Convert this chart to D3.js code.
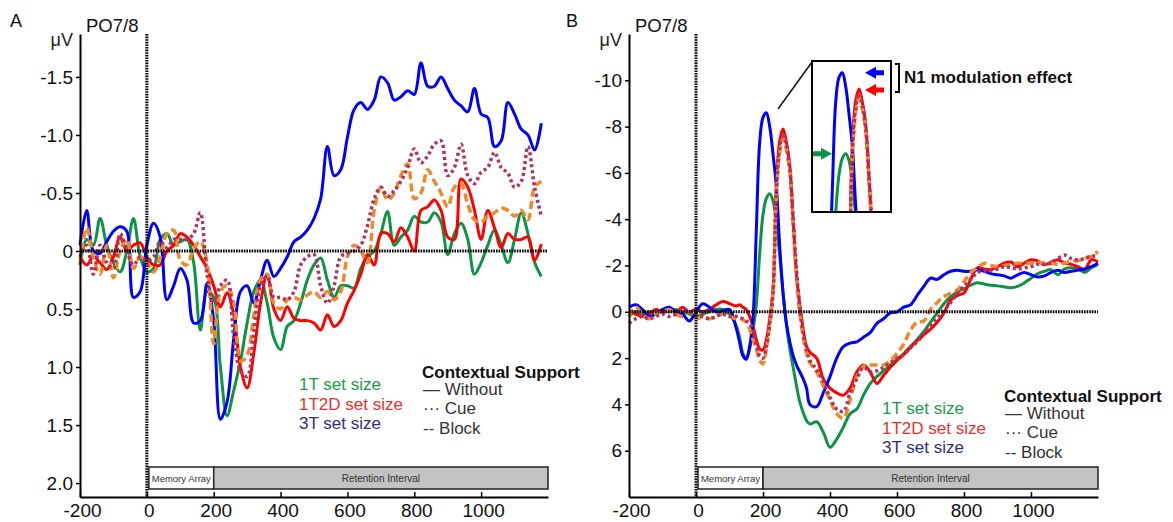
<!DOCTYPE html>
<html>
<head>
<meta charset="utf-8">
<script src="https://cdn.jsdelivr.net/npm/d3@7"></script>
<style>
  body { margin: 0; background: #fff; }
  text { font-family: "Liberation Sans", Arial, sans-serif; }
</style>
</head>
<body>
<svg id="chart" width="1173" height="522"></svg>
<script>
// sampling grid (ms)
var timesA = d3.range(-200, 1200, 20);
var timesB = [-200,-180,-160,-140,-120,-100,-80,-60,-40,-20,0,20,40,60,80,100,
  120,130,140,150,160,170,180,190,200,210,220,230,240,250,260,270,280,290,300,310,320,330,340,
  360,380,400,420,440,460,480,500,520,540,560,580,600,620,640,660,680,700,720,740,
  760,780,800,820,840,860,880,900,920,940,960,980,1000,1020,1040,1060,1080,1100,1120,1140,1160,1180,1200];

// panel A (uV), one value per 20 ms
var greenA = [0.12,-0.1,-0.05,-0.28,-0.05,0.1,0.18,0.0,-0.28,0.05,
  0.18,0.15,-0.1,-0.15,-0.05,-0.08,-0.1,0.1,0.68,0.35,
  0.4,1.0,1.42,1.2,0.95,0.62,0.35,0.25,0.45,0.75,
  0.85,0.65,0.6,0.45,0.25,0.12,0.06,0.25,0.4,0.3,
  0.3,0.32,0.15,0.05,0.0,-0.15,-0.34,-0.05,-0.12,-0.18,
  -0.3,-0.25,-0.25,-0.33,-0.25,0.03,-0.15,-0.24,-0.1,0.2,
  0.1,-0.05,-0.18,-0.05,0.1,-0.1,-0.33,-0.15,0.1,0.22];
var redA = [0.05,0.12,0.05,0.1,0.16,0.05,-0.12,0.0,-0.05,-0.07,
  0.05,0.12,0.12,0.0,-0.05,-0.15,-0.12,-0.05,0.05,0.15,
  0.3,0.48,0.36,0.55,1.0,1.18,0.88,0.45,0.2,0.5,
  0.6,0.48,0.58,0.6,0.6,0.62,0.68,0.55,0.65,0.6,
  0.45,0.34,0.2,0.03,0.12,-0.15,-0.15,-0.08,-0.2,-0.12,
  0.0,-0.35,-0.38,-0.44,-0.35,-0.12,-0.1,-0.62,-0.55,-0.35,
  -0.1,-0.35,-0.2,-0.03,-0.15,-0.1,-0.1,-0.12,0.08,-0.06];
var blueA = [-0.05,-0.35,0.0,0.02,-0.08,-0.17,-0.21,-0.17,0.4,0.35,
  -0.05,-0.24,-0.12,0.42,0.3,0.15,0.25,0.62,0.6,0.28,
  0.6,1.45,1.3,0.75,0.35,0.3,0.45,0.25,0.08,0.22,
  0.15,0.05,-0.08,-0.12,-0.18,-0.28,-0.45,-0.9,-0.65,-0.7,
  -0.98,-1.22,-1.28,-1.22,-1.3,-1.5,-1.45,-1.3,-1.33,-1.38,
  -1.35,-1.62,-1.42,-1.42,-1.5,-1.4,-1.3,-1.25,-1.2,-1.4,
  -1.18,-1.15,-0.9,-0.95,-1.28,-1.18,-1.05,-1.0,-0.87,-1.1];
var maroonA = [0.05,-0.05,0.2,-0.05,0.1,0.15,-0.15,0.0,0.12,0.05,
  0.08,0.05,-0.08,-0.03,-0.1,-0.1,-0.1,-0.15,-0.33,0.2,
  0.45,0.3,0.25,0.75,1.03,1.08,0.7,0.3,0.22,0.4,
  0.4,0.42,0.35,0.12,0.05,0.03,0.3,0.45,0.3,0.05,
  0.02,0.0,-0.05,-0.22,-0.45,-0.55,-0.47,-0.52,-0.6,-0.72,
  -0.88,-0.76,-0.82,-0.92,-0.95,-0.65,-0.72,-0.92,-0.65,-0.58,
  -0.68,-0.72,-0.85,-0.72,-0.67,-0.55,-0.6,-0.9,-0.55,-0.3];
var orangeA = [0.1,-0.2,0.05,0.2,-0.05,0.23,0.0,-0.1,0.15,0.05,
  0.1,0.18,0.05,-0.15,-0.18,0.08,0.12,-0.02,-0.08,0.1,
  0.8,0.35,0.3,0.45,0.95,0.9,0.55,0.25,0.2,0.45,
  0.5,0.42,0.4,0.42,0.38,0.35,0.4,0.35,0.42,0.35,
  0.05,-0.05,0.0,0.1,-0.35,-0.55,-0.44,-0.5,-0.65,-0.75,
  -0.45,-0.5,-0.7,-0.6,-0.5,-0.38,-0.55,-0.58,-0.4,-0.27,
  -0.25,-0.3,-0.33,-0.37,-0.35,-0.3,-0.35,-0.27,-0.55,-0.6];

// panel B (uV), on timesB
var greenB = [0.2,0.0,0.1,0.0,0.1,-0.1,0.0,-0.1,0.0,0.1,0.2,0.1,0.0,-0.1,-0.1,0.1,
  0.6,1.1,1.8,2.0,1.6,0.8,-0.3,-2.5,-4.2,-4.9,-5.1,-4.8,-3.8,-2.4,-0.8,0.6,1.6,2.4,3.2,3.9,4.35,4.7,4.85,
  4.75,5.2,5.85,5.5,4.98,4.4,4.2,3.6,3.1,2.8,
  2.55,2.3,2.05,1.8,1.5,1.2,0.85,0.45,0.05,-0.35,
  -0.65,-0.85,-1.0,-1.15,-1.25,-1.2,-1.15,-1.12,-1.08,-1.04,
  -1.1,-1.25,-1.45,-1.65,-1.75,-1.82,-1.6,-1.85,-1.9,-1.85,
  -1.7,-1.9,-2.05];
var redB = [0.0,0.1,0.2,0.1,-0.1,0.0,-0.1,0.0,-0.2,0.0,-0.1,0.0,-0.1,-0.3,-0.45,-0.35,
  -0.25,-0.3,-0.2,-0.1,0.2,0.6,1.2,1.6,1.65,1.2,0.3,-1.0,-5.5,-7.4,-7.9,-7.3,-6.3,-4.0,-1.6,-0.3,0.75,1.5,1.75,
  2.0,2.9,3.3,3.5,3.6,3.3,2.6,2.3,2.6,3.1,
  2.75,2.4,2.1,1.85,1.55,1.25,1.0,0.75,0.45,0.05,
  -0.5,-0.7,-0.82,-1.4,-1.9,-1.85,-1.82,-1.95,-2.1,-2.15,
  -1.95,-2.1,-2.25,-2.2,-2.03,-2.15,-2.25,-2.1,-2.05,-1.95,
  -1.82,-2.25,-2.15];
var blueB = [-0.2,-0.3,-0.1,0.2,0.1,-0.1,-0.2,0.0,0.1,0.4,0.0,-0.35,-0.2,0.0,-0.05,-0.1,
  0.7,1.3,1.9,2.05,1.5,0.3,-3.5,-7.3,-8.4,-8.6,-8.0,-6.8,-5.4,-2.8,-0.8,0.5,1.3,1.9,2.3,2.6,2.9,3.3,4.0,
  4.1,3.5,2.8,2.0,1.5,1.35,1.3,1.1,0.9,0.5,
  0.3,0.05,0.0,-0.2,-0.3,-0.7,-1.1,-1.45,-1.4,-1.6,
  -1.75,-1.8,-1.75,-1.75,-1.82,-1.75,-1.65,-1.6,-1.55,-1.45,
  -1.6,-1.7,-1.6,-1.5,-1.55,-1.7,-1.8,-1.7,-1.75,-1.8,
  -1.85,-1.95,-2.1];
var maroonB = [0.5,0.3,0.2,0.3,0.2,0.1,0.2,0.1,-0.1,0.0,0.1,0.2,0.3,0.2,0.1,0.2,
  0.2,0.25,0.3,0.4,0.5,0.8,1.4,1.9,2.0,1.5,0.5,-0.8,-5.2,-7.1,-7.7,-7.2,-6.2,-4.0,-1.8,-0.2,0.9,1.6,2.1,
  2.5,3.0,3.7,4.2,4.3,3.5,2.9,2.4,2.6,2.55,
  2.4,2.2,2.0,1.85,1.55,1.3,0.95,0.6,0.3,-0.05,
  -0.4,-0.8,-1.1,-1.4,-1.7,-1.75,-1.8,-1.85,-1.95,-1.9,
  -1.85,-1.9,-1.95,-2.05,-2.05,-2.1,-2.3,-2.45,-2.3,-2.25,
  -2.3,-2.4,-2.4];
var orangeB = [0.2,-0.2,0.1,0.3,0.1,0.0,-0.1,0.1,0.2,0.0,0.3,0.2,0.3,0.2,0.1,0.2,
  0.3,0.3,0.35,0.45,0.75,1.2,1.6,2.1,2.25,1.6,0.6,-0.8,-5.0,-6.9,-7.5,-7.0,-6.0,-3.8,-1.5,0.1,1.1,1.8,2.2,
  2.6,3.2,3.8,4.4,4.6,3.8,2.8,2.35,2.3,2.3,
  2.3,2.1,1.8,1.4,0.8,0.45,0.4,-0.1,-0.4,-0.65,
  -0.8,-0.95,-1.3,-1.7,-1.9,-2.1,-2.0,-1.95,-2.0,-2.05,
  -2.1,-2.1,-2.1,-2.15,-2.1,-2.1,-2.05,-2.1,-2.2,-2.2,
  -2.3,-2.4,-2.6];

var xTicks = [-200, 0, 200, 400, 600, 800, 1000];
var yTicksA = [-1.5, -1, -0.5, 0, 0.5, 1, 1.5, 2];
var yLabelsA = ['-1.5', '-1.0', '-0.5', '0', '0.5', '1.0', '1.5', '2.0'];
var yTicksB = [-10, -8, -6, -4, -2, 0, 2, 4, 6];
var yLabelsB = ['-10', '-8', '-6', '-4', '-2', '0', '2', '4', '6'];
var setSizes = ['1T set size', '1T2D set size', '3T set size'];
var supportLabels = ['\u2014 Without', '\u00b7\u00b7\u00b7 Cue', '-- Block'];

// line styles, same order as the series lists: green, red, blue, block (dashed), cue (dotted)
var styles = [
  {color: '#0c9445', width: 3, dash: null},
  {color: '#ff0000', width: 3, dash: null},
  {color: '#0000ff', width: 3, dash: null},
  {color: '#ef892b', width: 3.5, dash: '8,4'},
  {color: '#b3305f', width: 3.5, dash: '3,3'}
];
var legendColors = ['#1d9a4c', '#e8302f', '#2e2d86'];

var svg = d3.select('#chart');
var font = '"Liberation Sans", Arial, sans-serif';

var plotTop = 34, plotBottom = 497;

var xA = d3.scaleLinear().domain([-200, 1200]).range([80, 548]);
var yA = d3.scaleLinear().domain([2.12, -1.87]).range([plotBottom, plotTop]);
var xB = d3.scaleLinear().domain([-200, 1200]).range([629, 1098]);
var yB = d3.scaleLinear().domain([8, -12]).range([plotBottom, plotTop]);

function drawCurves(g, times, list, x, y) {
  var line = d3.line()
    .x(function(d, i) { return x(times[i]); })
    .y(function(d) { return y(d); })
    .curve(d3.curveCatmullRom.alpha(0.5));
  list.forEach(function(vals, k) {
    var s = styles[k];
    g.append('path')
      .attr('d', line(vals))
      .attr('fill', 'none')
      .attr('stroke', s.color)
      .attr('stroke-width', s.width)
      .attr('stroke-dasharray', s.dash)
      .attr('stroke-linejoin', 'round');
  });
}

function drawPanel(opt) {
  var x = opt.x, y = opt.y;
  var g = svg.append('g');

  // stimulus boxes
  g.append('rect')
    .attr('x', x(0) + 2).attr('y', 467)
    .attr('width', x(200) - x(0) - 2).attr('height', 22)
    .attr('fill', '#fff').attr('stroke', '#222').attr('stroke-width', 1.5);
  g.append('rect')
    .attr('x', x(200)).attr('y', 467)
    .attr('width', x(1200) - x(200)).attr('height', 22)
    .attr('fill', '#c3c3c3').attr('stroke', '#222').attr('stroke-width', 1.5);
  g.append('text')
    .attr('x', (x(0) + x(200)) / 2 + 1).attr('y', 482)
    .attr('text-anchor', 'middle').attr('font-size', 9.5).attr('fill', '#333')
    .text('Memory Array');
  g.append('text')
    .attr('x', (x(200) + x(1200)) / 2).attr('y', 482)
    .attr('text-anchor', 'middle').attr('font-size', 10).attr('fill', '#333')
    .text('Retention Interval');

  drawCurves(g, opt.times, opt.series, x, y);

  // zero lines
  g.append('line')
    .attr('x1', x.range()[0]).attr('x2', x.range()[1])
    .attr('y1', y(0)).attr('y2', y(0))
    .attr('stroke', '#000').attr('stroke-width', 3).attr('stroke-dasharray', '1.6,1');
  g.append('line')
    .attr('x1', x(0)).attr('x2', x(0))
    .attr('y1', plotTop).attr('y2', plotBottom)
    .attr('stroke', '#000').attr('stroke-width', 3).attr('stroke-dasharray', '1.6,1');

  // axes
  var ya = g.append('g')
    .attr('transform', 'translate(' + x.range()[0] + ',0)')
    .call(d3.axisLeft(y).tickValues(opt.yTicks).tickSizeInner(4).tickSizeOuter(0).tickPadding(3)
      .tickFormat(function(d, i) { return opt.yLabels[i]; }));
  var xa = g.append('g')
    .attr('transform', 'translate(0,' + plotBottom + ')')
    .call(d3.axisBottom(x).tickValues(xTicks).tickSizeInner(-5).tickSizeOuter(0).tickPadding(7)
      .tickFormat(function(d) { return String(d); }));
  [ya, xa].forEach(function(a) {
    a.attr('font-size', 19).attr('font-family', font);
    a.select('.domain').attr('stroke', '#000').attr('stroke-width', 2);
    a.selectAll('.tick line').attr('stroke', '#000').attr('stroke-width', 1.5);
    a.selectAll('.tick text').attr('fill', '#111');
  });
  xa.selectAll('.tick text').attr('dx', 2);

  // headers
  g.append('text').attr('x', opt.letterX).attr('y', 27).attr('font-size', 18).attr('fill', '#111').text(opt.letter);
  g.append('text').attr('x', x.range()[0] - 7).attr('y', 46).attr('text-anchor', 'end')
    .attr('font-size', 18).attr('fill', '#222').text('\u03bcV');
  g.append('text').attr('x', x.range()[0] + 6).attr('y', 32).attr('font-size', 18.5).attr('fill', '#111').text('PO7/8');

  // legends
  setSizes.forEach(function(t, i) {
    g.append('text').attr('x', opt.legX).attr('y', opt.legY + i * 19.5)
      .attr('font-size', 17).attr('fill', legendColors[i]).text(t);
  });
  g.append('text').attr('x', opt.supX).attr('y', opt.supY)
    .attr('font-size', 17).attr('font-weight', 'bold').attr('fill', '#111').text('Contextual Support');
  supportLabels.forEach(function(t, i) {
    g.append('text').attr('x', opt.supX + 1).attr('y', opt.supY + 16.5 + i * 19.5)
      .attr('font-size', 17).attr('fill', '#333').text(t);
  });
  return g;
}

drawPanel({x: xA, y: yA, times: timesA, series: [greenA, redA, blueA, orangeA, maroonA],
  yTicks: yTicksA, yLabels: yLabelsA, letter: 'A', letterX: 10,
  legX: 299, legY: 390, supX: 422, supY: 378});

drawPanel({x: xB, y: yB, times: timesB, series: [greenB, redB, blueB, orangeB, maroonB],
  yTicks: yTicksB, yLabels: yLabelsB, letter: 'B', letterX: 566,
  legX: 882, legY: 414, supX: 1004, supY: 402});

// inset: a shifted copy of the N1 peak region
var dx = 76, dy = -40;
var inset = {x: 812, y: 61, w: 79, h: 151};
svg.append('clipPath').attr('id', 'insetClip')
  .append('rect').attr('x', inset.x).attr('y', inset.y).attr('width', inset.w).attr('height', inset.h);
svg.append('line').attr('x1', 778).attr('y1', 109).attr('x2', inset.x).attr('y2', inset.y + 1)
  .attr('stroke', '#111').attr('stroke-width', 1.5);
svg.append('rect').attr('x', inset.x).attr('y', inset.y).attr('width', inset.w).attr('height', inset.h)
  .attr('fill', '#fff');
var ig = svg.append('g').attr('clip-path', 'url(#insetClip)')
  .append('g').attr('transform', 'translate(' + dx + ',' + dy + ')');
drawCurves(ig, timesB, [greenB, redB, blueB, orangeB, maroonB], xB, yB);
svg.append('rect').attr('x', inset.x).attr('y', inset.y).attr('width', inset.w).attr('height', inset.h)
  .attr('fill', 'none').attr('stroke', '#000').attr('stroke-width', 2);

// peak arrows
function arrow(tipX, cy, dir, color) {
  var h = 11 * dir, s = 8 * dir;
  svg.append('path')
    .attr('d', 'M' + tipX + ',' + cy + 'L' + (tipX + h) + ',' + (cy - 6) + 'L' + (tipX + h) + ',' + (cy - 2.5) +
      'L' + (tipX + h + s) + ',' + (cy - 2.5) + 'L' + (tipX + h + s) + ',' + (cy + 2.5) +
      'L' + (tipX + h) + ',' + (cy + 2.5) + 'L' + (tipX + h) + ',' + (cy + 6) + 'Z')
    .attr('fill', color);
}
arrow(865, yB(d3.min(blueB)) + dy, 1, '#0000ff');
arrow(865, yB(d3.min(redB)) + dy + 1, 1, '#ff0000');
arrow(832, yB(d3.min(greenB)) + dy, -1, '#0c9445');

svg.append('path').attr('d', 'M895,64H899V92H895').attr('fill', 'none')
  .attr('stroke', '#000').attr('stroke-width', 2);
svg.append('text').attr('x', 904).attr('y', 83).attr('font-size', 17).attr('font-weight', 'bold')
  .attr('fill', '#111').text('N1 modulation effect');
</script>
</body>
</html>
